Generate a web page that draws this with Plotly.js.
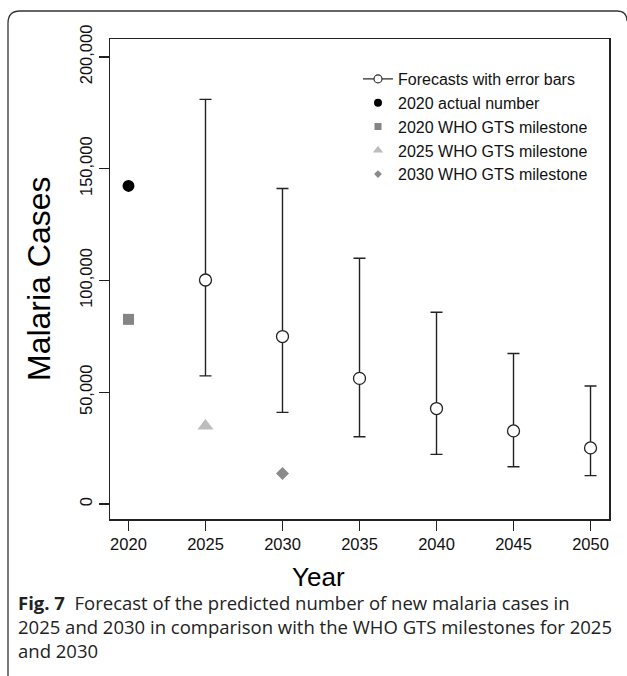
<!DOCTYPE html>
<html>
<head>
<meta charset="utf-8">
<script src="https://cdn.plot.ly/plotly-3.0.1.min.js"></script>
<style>
  html, body { margin: 0; padding: 0; background: #fff; }
  #chart { width: 627px; height: 676px; }
</style>
</head>
<body>
<div id="chart"></div>
<script>
// ---- data ----
const forecastYears = [2025, 2030, 2035, 2040, 2045, 2050];
const forecastCases = [100200, 74900, 56200, 42700, 32700, 25100];
const forecastUpper = [181000, 141100, 109900, 85800, 67300, 52800];
const forecastLower = [57300, 41000, 30100, 22200, 16700, 12700];

const actualYear = [2020];
const actualCases = [142300];

const gts2020Year = [2020];
const gts2020Cases = [82600];
const gts2025Year = [2025];
const gts2025Cases = [34900];
const gts2030Year = [2030];
const gts2030Cases = [13700];

const xTickVals = [2020, 2025, 2030, 2035, 2040, 2045, 2050];
const yTickVals = [0, 50000, 100000, 150000, 200000];
const yTickText = ["0", "50,000", "100,000", "150,000", "200,000"];

const legendLabels = [
  "Forecasts with error bars",
  "2020 actual number",
  "2020 WHO GTS milestone",
  "2025 WHO GTS milestone",
  "2030 WHO GTS milestone"
];

// ---- layout geometry (pixels) ----
const W = 627, H = 676;
const L = 110, R = 609, T = 39, B = 519;
const px = v => (v - L) / (R - L);
const py = v => (B - v) / (B - T);

const ink = "#222222";
const sqGray = "#858585";
const triGray = "#bdbdbd";
const diaGray = "#8a8a8a";

const errPlus = forecastUpper.map((u, i) => u - forecastCases[i]);
const errMinus = forecastCases.map((c, i) => c - forecastLower[i]);

const traces = [
  {
    x: forecastYears, y: forecastCases, type: "scatter", mode: "markers",
    showlegend: false, hoverinfo: "x+y",
    marker: { symbol: "circle", size: 12, color: "#ffffff", line: { color: ink, width: 1.3 } },
    error_y: { type: "data", symmetric: false, array: errPlus, arrayminus: errMinus,
               color: ink, thickness: 1.4, width: 6 }
  },
  {
    x: actualYear, y: actualCases, type: "scatter", mode: "markers", showlegend: false,
    marker: { symbol: "circle", size: 12, color: "#000000" }
  },
  {
    x: gts2020Year, y: gts2020Cases, type: "scatter", mode: "markers", showlegend: false,
    marker: { symbol: "square", size: 11, color: sqGray }
  },
  {
    x: gts2025Year, y: gts2025Cases, type: "scatter", mode: "markers", showlegend: false,
    marker: { symbol: "triangle-up", size: 14, color: triGray }
  },
  {
    x: gts2030Year, y: gts2030Cases, type: "scatter", mode: "markers", showlegend: false,
    marker: { symbol: "diamond", size: 10, color: diaGray }
  },
  // legend entries (no data of their own)
  {
    x: [null], y: [null], type: "scatter", mode: "lines+markers", name: legendLabels[0],
    line: { color: ink, width: 1.2 },
    marker: { symbol: "circle", size: 8, color: "#ffffff", line: { color: ink, width: 1.1 } }
  },
  { x: [null], y: [null], type: "scatter", mode: "markers", name: legendLabels[1],
    marker: { symbol: "circle", size: 8, color: "#000000" } },
  { x: [null], y: [null], type: "scatter", mode: "markers", name: legendLabels[2],
    marker: { symbol: "square", size: 7, color: sqGray } },
  { x: [null], y: [null], type: "scatter", mode: "markers", name: legendLabels[3],
    marker: { symbol: "triangle-up", size: 9, color: triGray } },
  { x: [null], y: [null], type: "scatter", mode: "markers", name: legendLabels[4],
    marker: { symbol: "diamond", size: 6, color: diaGray } }
];

const tickFont = { family: "Liberation Sans, Arial, sans-serif", size: 16.5, color: "#111" };

const layout = {
  width: W, height: H,
  margin: { l: L, r: W - R, t: T, b: H - B, pad: 0 },
  paper_bgcolor: "#ffffff", plot_bgcolor: "#ffffff",
  showlegend: true,
  legend: {
    x: px(358), y: py(62), xanchor: "left", yanchor: "top",
    bgcolor: "rgba(0,0,0,0)", borderwidth: 0,
    font: { family: "Liberation Sans, Arial, sans-serif", size: 16, color: "#111" },
    tracegroupgap: 0, itemclick: false, itemdoubleclick: false
  },
  xaxis: {
    range: [2018.8, 2051.2], tickvals: xTickVals, ticks: "outside", ticklen: 10, tickwidth: 1.3,
    tickcolor: ink, showline: true, mirror: true, linecolor: ink, linewidth: 1.5,
    showgrid: false, zeroline: false, tickfont: tickFont, fixedrange: true
  },
  yaxis: {
    range: [-6700, 208000], tickvals: yTickVals, ticktext: yTickText, tickangle: -90,
    ticks: "outside", ticklen: 10, tickwidth: 1.3, tickcolor: ink,
    showline: true, mirror: true, linecolor: ink, linewidth: 1.5,
    showgrid: false, zeroline: false, tickfont: tickFont, fixedrange: true
  },
  annotations: [
    {
      text: "Malaria Cases", xref: "paper", yref: "paper", x: px(39), y: py(279),
      xanchor: "center", yanchor: "middle", textangle: -90, showarrow: false,
      font: { family: "Liberation Sans, Arial, sans-serif", size: 32, color: "#000" }
    },
    {
      text: "Year", xref: "paper", yref: "paper", x: px(318), y: py(577),
      xanchor: "center", yanchor: "middle", showarrow: false,
      font: { family: "Liberation Sans, Arial, sans-serif", size: 26, color: "#000" }
    },
    {
      text: "<b>Fig. 7</b>  Forecast of the predicted number of new malaria cases in<br>" +
            "2025 and 2030 in comparison with the WHO GTS milestones for 2025<br>and 2030",
      xref: "paper", yref: "paper", x: px(16), y: py(588),
      xanchor: "left", yanchor: "top", align: "left", showarrow: false,
      font: { family: "Open Sans, Noto Sans, sans-serif", size: 18.5, color: "#222" }
    }
  ],
  shapes: [
    {
      type: "path", xref: "paper", yref: "paper", layer: "below",
      path: "M " + px(8) + " " + py(676) + " L " + px(8) + " " + py(23) +
            " Q " + px(8) + " " + py(11) + " " + px(20) + " " + py(11) +
            " L " + px(617) + " " + py(11) +
            " Q " + px(627) + " " + py(11) + " " + px(627) + " " + py(21),
      line: { color: "#333", width: 1.3 }
    }
  ]
};

Plotly.newPlot("chart", traces, layout, { displayModeBar: false, staticPlot: true });
</script>
</body>
</html>
